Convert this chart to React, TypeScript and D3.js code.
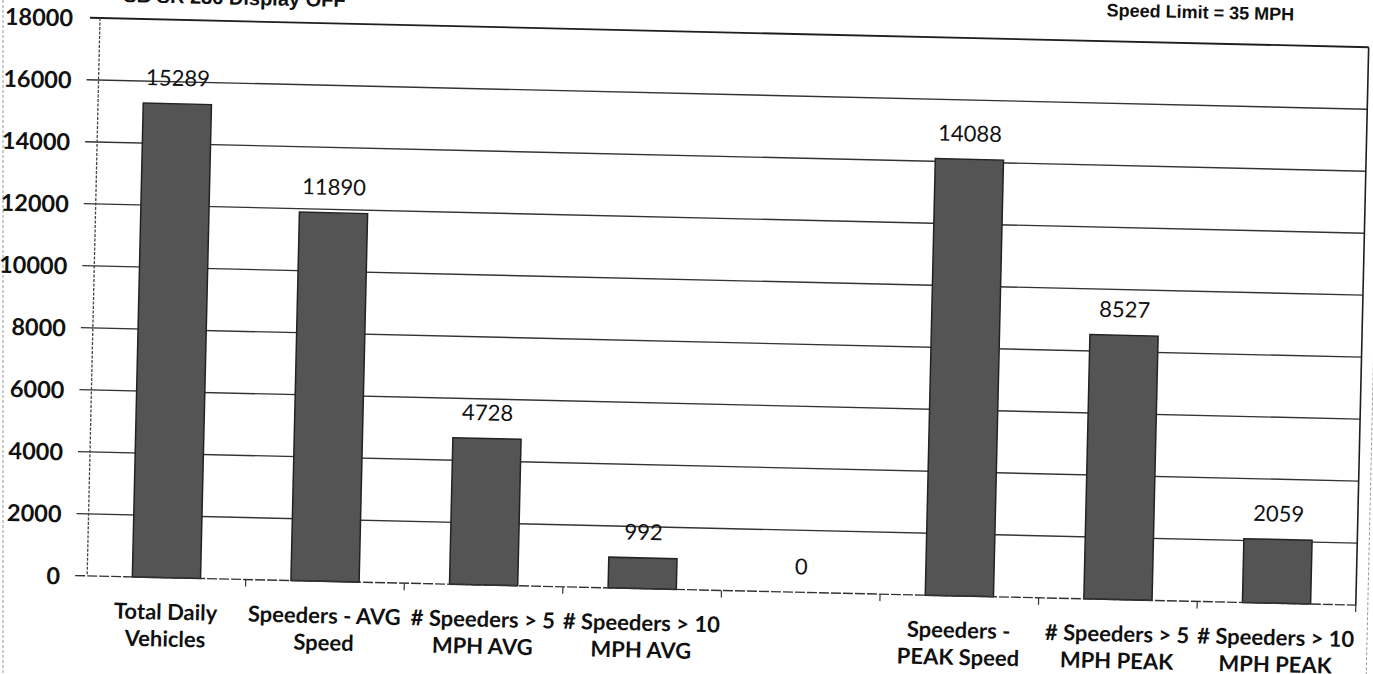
import React from "react";
import * as d3 from "d3";

const categoryLines: string[][] = [
  ["Total Daily", "Vehicles"],
  ["Speeders - AVG", "Speed"],
  ["# Speeders > 5", "MPH AVG"],
  ["# Speeders > 10", "MPH AVG"],
  ["", ""],
  ["Speeders -", "PEAK Speed"],
  ["# Speeders > 5", "MPH PEAK"],
  ["# Speeders > 10", "MPH PEAK"],
];
const values: number[] = [15289, 11890, 4728, 992, 0, 14088, 8527, 2059];
const yTicks: number[] = [0, 2000, 4000, 6000, 8000, 10000, 12000, 14000, 16000, 18000];
const titleLeft = "SB SR 236 Display OFF";
const titleRight = "Speed Limit = 35 MPH";

const W = 1269;
const H = 558;
const OX = 100;
const OY = 18;
const ANGLE = 1.32;

export default function App() {
  const idx = values.map((_, i) => String(i));
  const x = d3.scaleBand<string>().domain(idx).range([0, W]).paddingInner(0.57).paddingOuter(0.285);
  const y = d3.scaleLinear().domain([0, 18000]).range([H, 0]);
  const step = x.step();
  const boundaries = d3.range(1, values.length + 1).map((i) => i * step);
  const cx = (i: number) => (x(String(i)) as number) + x.bandwidth() / 2;

  return (
    <svg
      width={1373}
      height={674}
      style={{ position: "absolute", left: 0, top: 0, background: "#fff" }}
    >
      <line x1={3} x2={3} y1={0} y2={674} stroke="#999" strokeWidth={1} strokeDasharray="3,2" />
      <g transform={`rotate(${ANGLE}, ${OX}, ${OY}) translate(${OX}, ${OY})`}>
        <line x1={W + 12} x2={W + 12} y1={-40} y2={H + 120} stroke="#999" strokeWidth={1} strokeDasharray="3,2" />
        {yTicks.filter((t) => t > 0 && t < 18000).map((t) => (
          <line key={"g" + t} x1={-12} x2={W} y1={y(t)} y2={y(t)} stroke="#333" strokeWidth={1.4} />
        ))}
        <line x1={-10} x2={W} y1={y(18000)} y2={y(18000)} stroke="#1e1e1e" strokeWidth={1.8} />
        <line x1={W} x2={W} y1={0} y2={H} stroke="#1e1e1e" strokeWidth={1.6} />
        <line x1={0} x2={0} y1={0} y2={H} stroke="#444" strokeWidth={1.3} strokeDasharray="3,1.5" />
        {values.map((v, i) => (
          <rect
            key={"b" + i}
            x={x(String(i))}
            y={y(v)}
            width={x.bandwidth()}
            height={H - y(v)}
            fill="#545454"
            stroke="#222"
            strokeWidth={1.5}
          />
        ))}
        <line x1={-12} x2={W} y1={H} y2={H} stroke="#333" strokeWidth={1.4} strokeDasharray="10,2" />
        {boundaries.map((b, i) => (
          <line key={"t" + i} x1={b} x2={b} y1={H} y2={H + 7} stroke="#333" strokeWidth={1.2} />
        ))}
        {yTicks.map((t) => (
          <text
            key={"yl" + t}
            x={-27}
            y={y(t)}
            textAnchor="end"
            dominantBaseline="central"
            fontFamily="Lato"
            fontWeight="bold"
            fontSize={23.5}
            fill="#111"
          >
            {t}
          </text>
        ))}
        {values.map((v, i) => (
          <text
            key={"v" + i}
            x={cx(i)}
            y={y(v) - 18}
            textAnchor="middle"
            fontFamily="Lato"
            fontSize={22}
            fill="#111"
          >
            {v}
          </text>
        ))}
        {categoryLines.map((lines, i) => (
          <text
            key={"c" + i}
            textAnchor="middle"
            fontFamily="Lato"
            fontWeight="bold"
            fontSize={22}
            fill="#111"
          >
            <tspan x={cx(i)} y={H + 42}>{lines[0]}</tspan>
            <tspan x={cx(i)} y={H + 69}>{lines[1]}</tspan>
          </text>
        ))}
        <text x={134} y={-16.5} textAnchor="middle" fontFamily="Liberation Sans" fontWeight="bold" fontSize={20} fill="#111">
          {titleLeft}
        </text>
        <text x={1100} y={-25} textAnchor="middle" fontFamily="Liberation Sans" fontWeight="bold" fontSize={18} fill="#111">
          {titleRight}
        </text>
      </g>
    </svg>
  );
}
